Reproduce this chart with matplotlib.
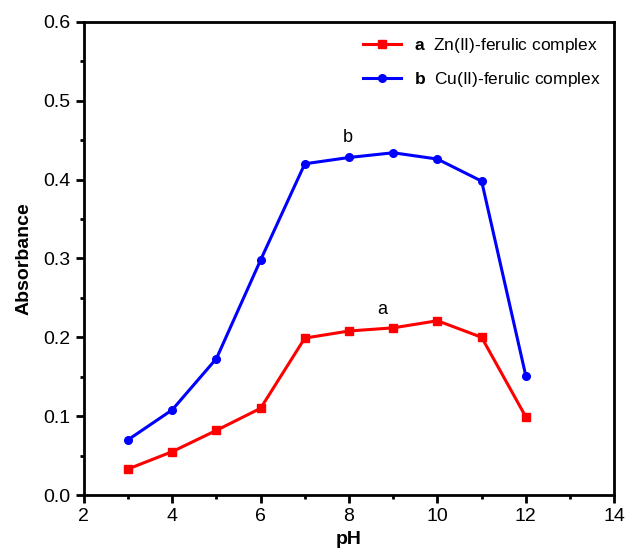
import matplotlib
matplotlib.use("Agg")
import matplotlib.pyplot as plt

plt.rcParams['font.family'] = ['Liberation Sans', 'DejaVu Sans']
plt.rcParams['mathtext.fontset'] = 'custom'
plt.rcParams['mathtext.bf'] = 'Liberation Sans:bold'
plt.rcParams['mathtext.rm'] = 'Liberation Sans'

# pH values and absorbance
ph = [3, 4, 5, 6, 7, 8, 9, 10, 11, 12]
zn_abs = [0.033, 0.055, 0.082, 0.110, 0.199, 0.208, 0.212, 0.221, 0.200, 0.099]
cu_abs = [0.070, 0.108, 0.173, 0.298, 0.420, 0.428, 0.434, 0.426, 0.398, 0.151]

fig = plt.figure(figsize=(6.3, 5.6), dpi=100)
ax = fig.add_axes([0.133, 0.116, 0.842, 0.845])

ax.plot(ph, zn_abs, color='#ff0000', lw=2.2, marker='s', ms=5.5,
        label=r'$\bf{a}$  Zn(II)-ferulic complex')
ax.plot(ph, cu_abs, color='#0000ff', lw=2.2, marker='o', ms=5.5,
        label=r'$\bf{b}$  Cu(II)-ferulic complex')

# curve labels
ax.text(7.98, 0.443, 'b', fontsize=13, ha='center', va='bottom')
ax.text(8.75, 0.224, 'a', fontsize=13, ha='center', va='bottom')

ax.set_xlim(2, 14)
ax.set_ylim(0, 0.6)
ax.set_xticks(range(2, 15, 2))
ax.set_xticks(range(3, 14, 2), minor=True)
ax.set_yticks([0.0, 0.1, 0.2, 0.3, 0.4, 0.5, 0.6])
ax.set_yticks([0.05, 0.15, 0.25, 0.35, 0.45, 0.55], minor=True)
ax.set_yticklabels(['0.0', '0.1', '0.2', '0.3', '0.4', '0.5', '0.6'])

ax.tick_params(which='major', direction='out', length=6, width=2, labelsize=14)
ax.tick_params(which='minor', direction='out', length=3, width=2)
for s in ax.spines.values():
    s.set_linewidth(2)

ax.set_xlabel('pH', fontsize=14, fontweight='bold', labelpad=4)
ax.set_ylabel('Absorbance', fontsize=14, fontweight='bold', labelpad=8)

ax.legend(loc='upper right', frameon=False, fontsize=12.5, handlelength=2.2,
          handletextpad=0.7, borderaxespad=0.4, labelspacing=0.9)

fig.savefig('out.png', dpi=100)
